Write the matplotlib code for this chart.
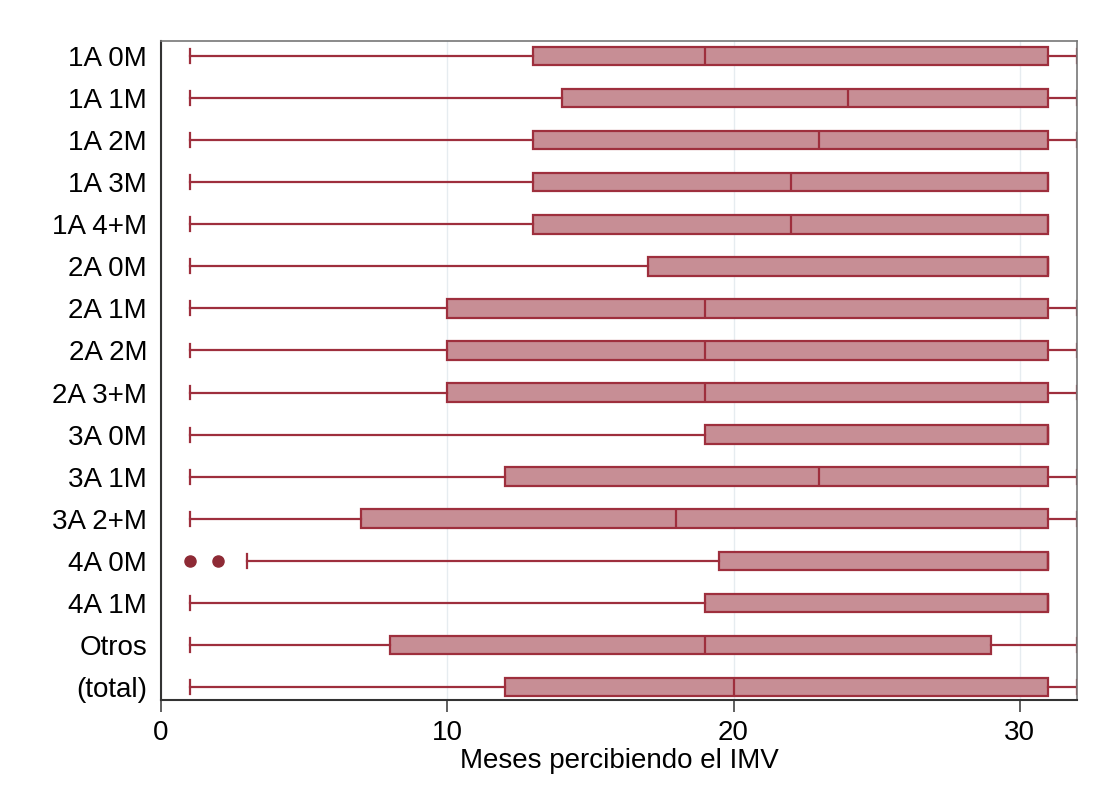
import matplotlib
matplotlib.use("Agg")
import matplotlib.pyplot as plt

plt.rcParams['font.family'] = ['Liberation Sans', 'DejaVu Sans']

groups = ["1A 0M", "1A 1M", "1A 2M", "1A 3M", "1A 4+M", "2A 0M", "2A 1M", "2A 2M",
          "2A 3+M", "3A 0M", "3A 1M", "3A 2+M", "4A 0M", "4A 1M", "Otros", "(total)"]
whisker_lo = [1, 1, 1, 1, 1, 1, 1, 1, 1, 1, 1, 1, 3, 1, 1, 1]
q1 = [13, 14, 13, 13, 13, 17, 10, 10, 10, 19, 12, 7, 19.5, 19, 8, 12]
median = [19, 24, 23, 22, 22, 31, 19, 19, 19, 31, 23, 18, 31, 31, 19, 20]
q3 = [31, 31, 31, 31, 31, 31, 31, 31, 31, 31, 31, 31, 31, 31, 29, 31]
whisker_hi = [32, 32, 32, 31, 31, 31, 32, 32, 32, 31, 32, 32, 31, 31, 32, 32]
outliers = {"4A 0M": [1, 2]}

edge = "#9e2f3d"
fill = "#c78e95"

stats = []
for i, g in enumerate(groups):
    stats.append({
        "label": g,
        "whislo": whisker_lo[i],
        "q1": q1[i],
        "med": median[i],
        "q3": q3[i],
        "whishi": whisker_hi[i],
        "fliers": outliers.get(g, []),
    })

fig = plt.figure(figsize=(10.93, 7.98), dpi=100)
ax = fig.add_axes([0.1473, 0.1228, 0.8381, 0.8258])

positions = list(range(len(groups)))
ax.bxp(stats, positions=positions, vert=False, widths=0.44, capwidths=0.33,
       patch_artist=True, showfliers=True,
       boxprops=dict(facecolor=fill, edgecolor=edge, linewidth=1.6),
       medianprops=dict(color=edge, linewidth=1.6),
       whiskerprops=dict(color=edge, linewidth=1.6),
       capprops=dict(color=edge, linewidth=1.6),
       flierprops=dict(marker="o", markerfacecolor="#8e2a35", markeredgecolor="#8e2a35",
                       markersize=8))

ax.set_xlim(0, 32)
ax.set_ylim(15.31, -0.357)
ax.set_xticks([0, 10, 20, 30])
ax.set_yticks(positions)
ax.set_yticklabels(groups)
ax.tick_params(axis="y", length=0, pad=10, labelsize=20)
ax.tick_params(axis="x", length=8.5, width=1.2, color="#444444", labelsize=20, pad=6)
ax.xaxis.grid(True, color="#e6ecf0", linewidth=1.0)
ax.set_axisbelow(True)
ax.set_xlabel("Meses percibiendo el IMV", fontsize=20, labelpad=1)

for side in ["left", "bottom"]:
    ax.spines[side].set_color("#333333")
    ax.spines[side].set_linewidth(1.5)
for side in ["top", "right"]:
    ax.spines[side].set_color("#777777")
    ax.spines[side].set_linewidth(1.2)

fig.savefig("out.png", dpi=100, facecolor="white")
